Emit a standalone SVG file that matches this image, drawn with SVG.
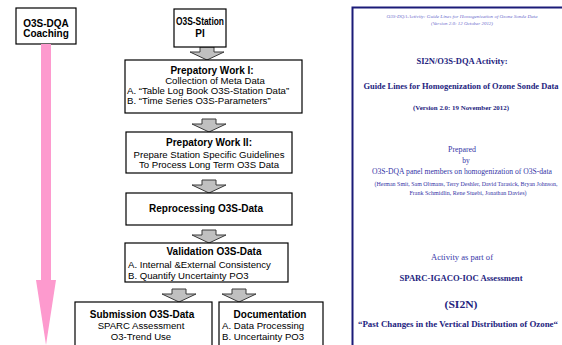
<svg xmlns="http://www.w3.org/2000/svg" width="562" height="345" viewBox="0 0 562 345">
  <style>
    .box { fill: #ffffff; stroke: #000000; stroke-width: 1.2; }
    .hd { font-family: "Liberation Sans", Arial, sans-serif; font-weight: bold; font-size: 10px; fill: #000; }
    .tx { font-family: "Liberation Sans", Arial, sans-serif; font-size: 9.6px; fill: #000; }
    .flow { fill: #c0c0c0; stroke: #3a3a3a; stroke-width: 1; }
    .pg { font-family: "Liberation Serif", "Times New Roman", serif; text-anchor: middle; }
    .pb { font-weight: bold; fill: #23237e; }
    .pr { fill: #3434a6; }
    .pi { font-style: italic; fill: #6b6bcc; }
  </style>
  <defs>
    <!-- grey block arrow, tip at origin, pointing down -->
    <polygon id="blk" points="-7,-13 7,-13 7,-8 17,-8 0,0 -17,-8 -7,-8"/>
  </defs>

  <!-- coaching track -->
  <g id="coaching">
    <rect class="box" x="16" y="8" width="60" height="36"/>
    <text class="hd" x="46" y="27" text-anchor="middle">O3S-DQA</text>
    <text class="hd" x="46" y="37" text-anchor="middle">Coaching</text>
  </g>
  <polygon id="coaching-arrow" fill="#fd9ace" points="41,44 51,44 51,280 56,280 46,345 36,280 41,280"/>

  <!-- connectors -->
  <g id="connectors" class="flow">
    <use href="#blk" x="207" y="60"/>
    <use href="#blk" x="209" y="132"/>
    <use href="#blk" x="209" y="193"/>
    <use href="#blk" x="209" y="243"/>
    <use href="#blk" x="179" y="302"/>
    <use href="#blk" x="239" y="302"/>
  </g>

  <g id="station-pi">
    <rect class="box" x="174" y="9" width="52" height="38"/>
    <text class="hd" x="200" y="25" text-anchor="middle" textLength="48" lengthAdjust="spacingAndGlyphs">O3S-Station</text>
    <text class="hd" x="200" y="37" text-anchor="middle">PI</text>
  </g>

  <g id="prep-1">
    <rect class="box" x="125" y="60" width="177" height="53"/>
    <text class="hd" x="212" y="74" text-anchor="middle">Prepatory Work I:</text>
    <text class="tx" x="215" y="84" text-anchor="middle">Collection of Meta Data</text>
    <text class="tx" x="127" y="94">A. “Table Log Book O3S-Station Data”</text>
    <text class="tx" x="127" y="104">B. “Time Series O3S-Parameters”</text>
  </g>

  <g id="prep-2">
    <rect class="box" x="126" y="132" width="166" height="41"/>
    <text class="hd" x="209" y="146" text-anchor="middle">Prepatory Work II:</text>
    <text class="tx" x="209" y="158" text-anchor="middle">Prepare Station Specific Guidelines</text>
    <text class="tx" x="209" y="168" text-anchor="middle">To Process Long Term O3S Data</text>
  </g>

  <g id="reprocessing">
    <rect class="box" x="126" y="193" width="166" height="32"/>
    <text class="hd" x="206" y="212" text-anchor="middle">Reprocessing O3S-Data</text>
  </g>

  <g id="validation">
    <rect class="box" x="125" y="243" width="163" height="39"/>
    <text class="hd" x="214" y="255" text-anchor="middle">Validation O3S-Data</text>
    <text class="tx" x="128" y="268">A. Internal &amp;External Consistency</text>
    <text class="tx" x="128" y="279">B. Quantify Uncertainty PO3</text>
  </g>

  <g id="submission">
    <rect class="box" x="75" y="302" width="137" height="50"/>
    <text class="hd" x="142" y="318" text-anchor="middle">Submission O3S-Data</text>
    <text class="tx" x="141" y="329" text-anchor="middle">SPARC Assessment</text>
    <text class="tx" x="141" y="340" text-anchor="middle">O3-Trend Use</text>
  </g>

  <g id="documentation">
    <rect class="box" x="219" y="302" width="104" height="50"/>
    <text class="hd" x="270" y="318" text-anchor="middle">Documentation</text>
    <text class="tx" x="222" y="329">A. Data Processing</text>
    <text class="tx" x="222" y="340">B. Uncertainty PO3</text>
  </g>

  <!-- title page of the guidelines document -->
  <g id="title-page" class="pg">
    <path d="M352.5,346 V7.5 H563" fill="none" stroke="#1b1b78" stroke-width="2"/>
    <text class="pi" x="462" y="18" font-size="5" textLength="151" lengthAdjust="spacingAndGlyphs">O3S-DQA Activity: Guide Lines for Homogenization of Ozone Sonde Data</text>
    <text class="pi" x="462" y="24.5" font-size="5" textLength="62" lengthAdjust="spacingAndGlyphs">(Version 2.0: 12 October 2012)</text>
    <text class="pb" x="462" y="64" font-size="8.5" textLength="91" lengthAdjust="spacingAndGlyphs">SI2N/O3S-DQA Activity:</text>
    <text class="pb" x="461" y="89" font-size="8.5" textLength="195" lengthAdjust="spacingAndGlyphs">Guide Lines for Homogenization of Ozone Sonde Data</text>
    <text class="pb" x="461" y="110" font-size="6.5" textLength="96" lengthAdjust="spacingAndGlyphs">(Version 2.0: 19 November 2012)</text>
    <text class="pr" x="462" y="152" font-size="7.5" textLength="28" lengthAdjust="spacingAndGlyphs">Prepared</text>
    <text class="pr" x="466" y="163" font-size="7.5">by</text>
    <text class="pr" x="462" y="174" font-size="7.5" textLength="180" lengthAdjust="spacingAndGlyphs">O3S-DQA panel members on homogenization of O3S-data</text>
    <text class="pr" x="466" y="186" font-size="6" textLength="183" lengthAdjust="spacingAndGlyphs">(Herman Smit, Sam Oltmans, Terry Deshler, David Tarasick, Bryan Johnson,</text>
    <text class="pr" x="468" y="195" font-size="6" textLength="117" lengthAdjust="spacingAndGlyphs">Frank Schmidlin, Rene Stuebi, Jonathan Davies)</text>
    <text class="pr" x="462" y="260" font-size="7.5" textLength="62" lengthAdjust="spacingAndGlyphs">Activity as part of</text>
    <text class="pb" x="461" y="281" font-size="7.5" textLength="123" lengthAdjust="spacingAndGlyphs">SPARC-IGACO-IOC Assessment</text>
    <text class="pb" x="461" y="308" font-size="11" textLength="33" lengthAdjust="spacingAndGlyphs">(SI2N)</text>
    <text class="pb" x="458" y="327" font-size="7.5" textLength="200" lengthAdjust="spacingAndGlyphs">“Past Changes in the Vertical Distribution of Ozone“</text>
  </g>
</svg>
